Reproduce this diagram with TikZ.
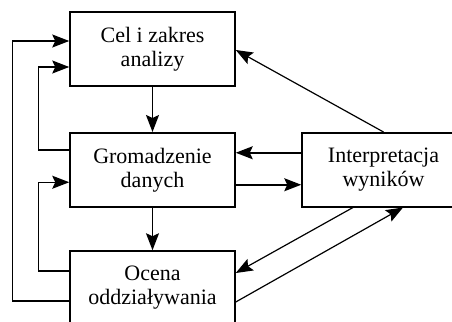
\documentclass[tikz,border=0pt]{standalone}
\usepackage{fontspec}
\setmainfont{Liberation Serif}
\usetikzlibrary{arrows.meta}
\tikzset{
  blk/.style={draw, line width=1.5pt, minimum width=165pt, minimum height=74pt,
    align=center, inner sep=2pt, font=\fontsize{22}{24}\selectfont},
  arr/.style={line width=1.5pt, -{Stealth[length=17pt,width=13pt,inset=3pt]}},
  thinarr/.style={line width=1.2pt, -{Stealth[length=17pt,width=13pt,inset=3pt]}}
}
\begin{document}
\begin{tikzpicture}[x=1pt,y=-1pt]
\useasboundingbox (0,0) rectangle (452,321);
\fill[white] (0,0) rectangle (452,321);
\clip (0,0) rectangle (452,321);
\node[blk] (cel) at (152.5,49) {Cel i zakres\\analizy};
\node[blk] (grom) at (152.5,169.75) {Gromadzenie\\danych};
\node[blk] (ocena) at (152.5,288) {Ocena\\oddziaływania};
\node[blk, minimum width=163pt] (interp) at (383.5,169.75) {Interpretacja\\wyników};
% vertical flow
\draw[arr] (cel.south) -- (grom.north);
\draw[arr] (grom.south) -- (ocena.north);
% left loops
\draw[arr] ([yshift=-13pt]ocena.west) -- ++(-57,0) |- ([yshift=8pt]cel.west);
\draw[arr] ([yshift=20pt]grom.west) -- ++(-31,0) |- ([yshift=-18pt]cel.west);
\draw[arr] ([yshift=17pt]ocena.west) -- ++(-31,0) |- ([yshift=-12.5pt]grom.west);
% right side
\draw[arr] ([yshift=17pt]interp.west) -- ([yshift=17pt]grom.east);
\draw[arr] ([yshift=-15pt]grom.east) -- ([yshift=-15pt]interp.west);
\draw[thinarr] (interp.north) -- ([yshift=-1pt]cel.east);
\draw[thinarr] ([xshift=-30.5pt]interp.south) -- ([yshift=15pt]ocena.east);
\draw[thinarr] ([yshift=-14pt]ocena.east) -- ([xshift=19.5pt]interp.south);
\end{tikzpicture}
\end{document}
